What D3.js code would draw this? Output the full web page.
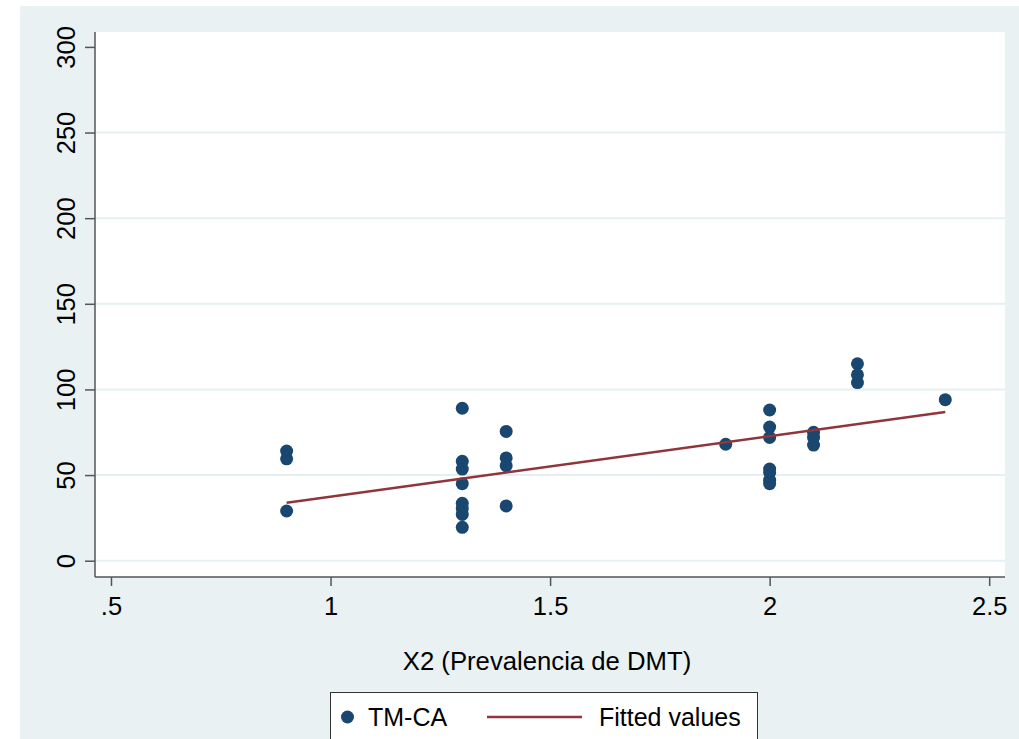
<!DOCTYPE html>
<html>
<head>
<meta charset="utf-8">
<script src="https://cdn.jsdelivr.net/npm/d3@7"></script>
<style>
  html, body { margin: 0; padding: 0; background: #ffffff; }
  svg { display: block; }
  text { font-family: "Liberation Sans", Arial, sans-serif; fill: #000; }
</style>
</head>
<body>
<svg id="chart" width="1019" height="739"></svg>
<script>
// TM-CA observations against X2 (Prevalencia de DMT)
const prevalence = [0.9, 0.9, 0.9,
  1.3, 1.3, 1.3, 1.3, 1.3, 1.3, 1.3, 1.3,
  1.4, 1.4, 1.4, 1.4,
  1.9,
  2.0, 2.0, 2.0, 2.0, 2.0, 2.0, 2.0,
  2.1, 2.1, 2.1,
  2.2, 2.2, 2.2,
  2.4];
const tmca = [64, 59.5, 29,
  89, 58, 53.5, 45, 33.5, 30.5, 27, 19.5,
  75.5, 60, 55.5, 32,
  68,
  88, 78, 72, 53.5, 51.5, 47, 45,
  75, 72, 67.5,
  115, 108.5, 104,
  94];

// Linear fit endpoints
const fitX = [0.9, 2.4];
const fitY = [33.9, 86.8];

// Axis ticks
const xTicks = [0.5, 1, 1.5, 2, 2.5];
const xTickLabels = [".5", "1", "1.5", "2", "2.5"];
const yTicks = [0, 50, 100, 150, 200, 250, 300];
const yGridTicks = [0, 50, 100, 150, 200, 250];

const navy = "#1a476f";
const maroon = "#90353b";
const regionBg = "#e9f1f3";

const svg = d3.select("#chart");

// Graph region
svg.append("rect")
  .attr("x", 20).attr("y", 6).attr("width", 999).attr("height", 733)
  .attr("fill", regionBg);

const plot = { left: 95, right: 1005, top: 32, bottom: 577 };

svg.append("rect")
  .attr("x", plot.left).attr("y", plot.top)
  .attr("width", plot.right - plot.left).attr("height", plot.bottom - plot.top)
  .attr("fill", "#ffffff");

const x = d3.scaleLinear().domain([0.4636, 2.536]).range([plot.left, plot.right]);
const y = d3.scaleLinear().domain([-9.52, 308.7]).range([plot.bottom, plot.top]);

// Horizontal grid lines
svg.append("g").selectAll("line")
  .data(yGridTicks)
  .join("line")
  .attr("x1", plot.left).attr("x2", plot.right)
  .attr("y1", d => y(d)).attr("y2", d => y(d))
  .attr("stroke", "#e6eff2").attr("stroke-width", 2);

// Y axis
const yAxis = d3.axisLeft(y).tickValues(yTicks).tickSize(10).tickPadding(10)
  .tickFormat(d3.format("d"));
const gy = svg.append("g").attr("transform", `translate(${plot.left},0)`).call(yAxis);
gy.select(".domain").remove();
gy.selectAll(".tick line").attr("stroke", "#555").attr("stroke-width", 1.5);
gy.selectAll(".tick text")
  .attr("font-size", 25.5)
  .attr("x", null).attr("dy", null)
  .attr("text-anchor", "middle")
  .attr("transform", "translate(-20,0) rotate(-90)")
  .attr("y", 0);
svg.append("line")
  .attr("x1", plot.left).attr("x2", plot.left)
  .attr("y1", plot.top).attr("y2", plot.bottom)
  .attr("stroke", "#555").attr("stroke-width", 1.5);

// X axis
const xAxis = d3.axisBottom(x).tickValues(xTicks).tickSize(9).tickPadding(11)
  .tickFormat((d, i) => xTickLabels[i]);
const gx = svg.append("g").attr("transform", `translate(0,${plot.bottom})`).call(xAxis);
gx.select(".domain").remove();
gx.selectAll(".tick line").attr("stroke", "#555").attr("stroke-width", 1.5);
gx.selectAll(".tick text").attr("font-size", 25.5);
svg.append("line")
  .attr("x1", plot.left).attr("x2", plot.right)
  .attr("y1", plot.bottom).attr("y2", plot.bottom)
  .attr("stroke", "#555").attr("stroke-width", 1.5);

// X axis title
svg.append("text")
  .attr("x", 547).attr("y", 670)
  .attr("text-anchor", "middle").attr("font-size", 25.7)
  .text("X2 (Prevalencia de DMT)");

// Scatter points
svg.append("g").selectAll("circle")
  .data(prevalence.map((p, i) => ({ p, v: tmca[i] })))
  .join("circle")
  .attr("cx", d => x(d.p)).attr("cy", d => y(d.v))
  .attr("r", 6.5).attr("fill", navy);

// Fitted line
svg.append("path")
  .datum(fitX.map((p, i) => [p, fitY[i]]))
  .attr("d", d3.line().x(d => x(d[0])).y(d => y(d[1])))
  .attr("fill", "none").attr("stroke", maroon).attr("stroke-width", 2.5);

// Legend
const legend = svg.append("g");
legend.append("rect")
  .attr("x", 330.5).attr("y", 692.5).attr("width", 427).attr("height", 60)
  .attr("fill", "#ffffff").attr("stroke", "#333").attr("stroke-width", 1);
legend.append("circle")
  .attr("cx", 347.5).attr("cy", 717).attr("r", 6.5).attr("fill", navy);
legend.append("text")
  .attr("x", 368).attr("y", 726).attr("font-size", 25).text("TM-CA");
legend.append("line")
  .attr("x1", 487).attr("x2", 582).attr("y1", 717).attr("y2", 717)
  .attr("stroke", maroon).attr("stroke-width", 2.5);
legend.append("text")
  .attr("x", 599).attr("y", 726).attr("font-size", 25).text("Fitted values");
</script>
</body>
</html>
